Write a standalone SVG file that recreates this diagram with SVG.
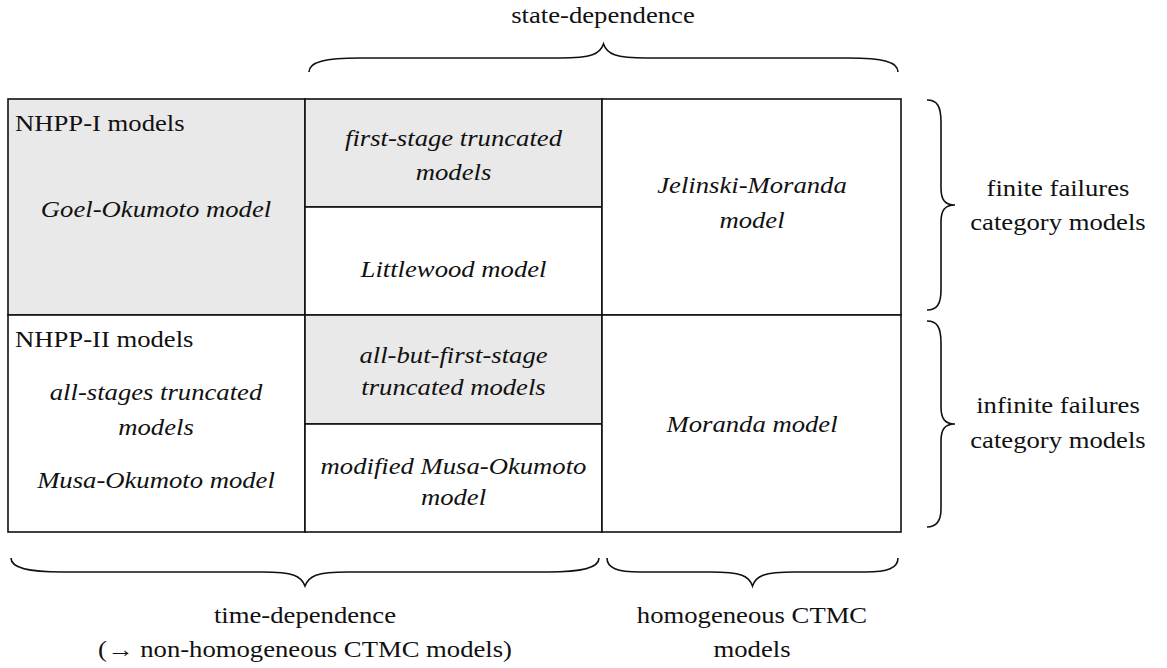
<svg xmlns="http://www.w3.org/2000/svg" width="1167" height="668" viewBox="0 0 1167 668">
<style>
.cell{stroke:#111;stroke-width:1.6;}
.sh{fill:#e9e9e9;}
.wh{fill:#ffffff;}
text{font-family:'Liberation Serif','Times New Roman',Tinos,serif;font-size:23px;fill:#111;text-anchor:middle;}
.i{font-style:italic;}
.l{text-anchor:start;}
.br{fill:none;stroke:#111;stroke-width:1.6;}
</style>
<rect x="0" y="0" width="1167" height="668" fill="#ffffff"/>
<g id="cell-nhpp1">
<rect class="cell sh" x="8" y="99" width="297" height="216"/>
<text class="l" transform="translate(15,131) scale(1.16,1)">NHPP-I models</text>
<text class="i" transform="translate(156,217) scale(1.16,1)">Goel-Okumoto model</text>
</g>
<g id="cell-first-stage">
<rect class="cell sh" x="305" y="99" width="297" height="108"/>
<text class="i" transform="translate(453.5,146) scale(1.16,1)">first-stage truncated</text>
<text class="i" transform="translate(453.5,180) scale(1.16,1)">models</text>
</g>
<g id="cell-littlewood">
<rect class="cell wh" x="305" y="207" width="297" height="108"/>
<text class="i" transform="translate(453.5,277) scale(1.16,1)">Littlewood model</text>
</g>
<g id="cell-jelinski">
<rect class="cell wh" x="602" y="99" width="299" height="216"/>
<text class="i" transform="translate(752,193) scale(1.16,1)">Jelinski-Moranda</text>
<text class="i" transform="translate(752,228) scale(1.16,1)">model</text>
</g>
<g id="cell-nhpp2">
<rect class="cell wh" x="8" y="315" width="297" height="217"/>
<text class="l" transform="translate(15,347) scale(1.16,1)">NHPP-II models</text>
<text class="i" transform="translate(156,400) scale(1.16,1)">all-stages truncated</text>
<text class="i" transform="translate(156,435) scale(1.16,1)">models</text>
<text class="i" transform="translate(156,488) scale(1.16,1)">Musa-Okumoto model</text>
</g>
<g id="cell-all-but-first">
<rect class="cell sh" x="305" y="315" width="297" height="109"/>
<text class="i" transform="translate(453.5,363) scale(1.16,1)">all-but-first-stage</text>
<text class="i" transform="translate(453.5,395) scale(1.16,1)">truncated models</text>
</g>
<g id="cell-modified-musa">
<rect class="cell wh" x="305" y="424" width="297" height="108"/>
<text class="i" transform="translate(453.5,474) scale(1.16,1)">modified Musa-Okumoto</text>
<text class="i" transform="translate(453.5,505) scale(1.16,1)">model</text>
</g>
<g id="cell-moranda">
<rect class="cell wh" x="602" y="315" width="299" height="217"/>
<text class="i" transform="translate(752,432) scale(1.16,1)">Moranda model</text>
</g>
<g id="braces">
<path class="br" d="M309,72 C309,62 325,58 360,58 L560,58 C592,58 600,54 603.5,44 C607,54 615,58 647,58 L848,58 C883,58 898,62 898,72"/>
<path class="br" d="M927,100 C937,100 941,106 941,122 L941,188 C941,200 945,205 955,205 C945,205 941,210 941,222 L941,290 C941,304 937,310 927,310"/>
<path class="br" d="M927,321 C937,321 941,327 941,343 L941,407 C941,419 945,424 955,424 C945,424 941,429 941,441 L941,509 C941,521 937,527 927,527"/>
<path class="br" d="M11,558 C11,568 28,572 62,572 L262,572 C294,572 301,576 305,586 C309,576 316,572 348,572 L548,572 C582,572 599,568 599,558"/>
<path class="br" d="M607,558 C607,568 617,572 640,572 L710,572 C742,572 749,576 752.5,586 C756,576 763,572 795,572 L865,572 C888,572 898,568 898,558"/>
</g>
<g id="labels">
<text transform="translate(603,23) scale(1.16,1)">state-dependence</text>
<text transform="translate(1058,196) scale(1.16,1)">finite failures</text>
<text transform="translate(1058,230) scale(1.16,1)">category models</text>
<text transform="translate(1058,413) scale(1.16,1)">infinite failures</text>
<text transform="translate(1058,448) scale(1.16,1)">category models</text>
<text transform="translate(305,623) scale(1.16,1)">time-dependence</text>
<text transform="translate(305,657) scale(1.16,1)">(→ non-homogeneous CTMC models)</text>
<text transform="translate(752,623) scale(1.16,1)">homogeneous CTMC</text>
<text transform="translate(752,657) scale(1.16,1)">models</text>
</g>
</svg>
